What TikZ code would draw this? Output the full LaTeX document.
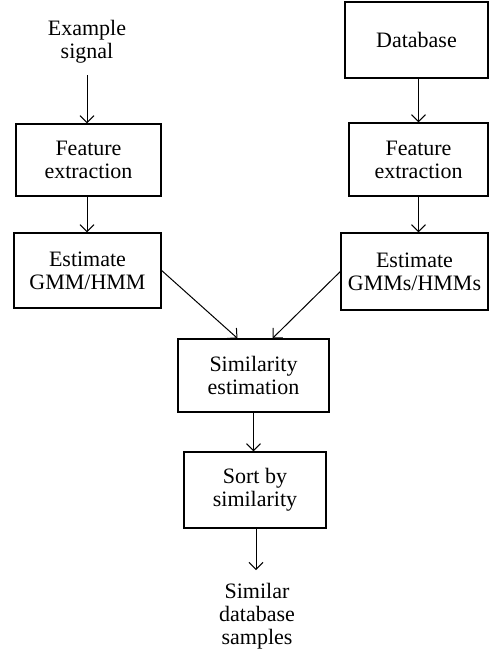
\documentclass[tikz,border=0pt]{standalone}
\usepackage{fontspec}
\setmainfont{Liberation Serif}
\usetikzlibrary{arrows.meta,calc}
\begin{document}
\begin{tikzpicture}[x=1pt,y=-1pt,
  every node/.style={font=\fontsize{22}{23}\selectfont, align=center, inner sep=0pt},
  blk/.style={draw, line width=1.3pt, minimum width=#1},
  conn/.style={line width=1pt, -{Straight Barb[length=7pt,width=14pt,line width=1pt]}}]
\useasboundingbox (0,0) rectangle (490,651);
\node (ex) at (87,42) {Example\\signal};
\node[blk=145, minimum height=72] (fe1) at (88.5,160) {Feature\\extraction};
\node[blk=147, minimum height=75] (est1) at (87.5,270.5) {Estimate\\GMM/HMM};
\node[blk=143, minimum height=76] (db) at (416.5,40) {Database};
\node[blk=139, minimum height=73] (fe2) at (418.5,159.5) {Feature\\extraction};
\node[blk=147, minimum height=77] (est2) at (414.5,271.5) {Estimate\\GMMs/HMMs};
\node[blk=151, minimum height=73] (sim) at (253.5,375.5) {Similarity\\estimation};
\node[blk=142, minimum height=76] (sort) at (255,490) {Sort by\\similarity};
\node (out) at (257,616) {Similar\\database\\samples};
\coordinate (exs) at (87,75);
\coordinate (siml) at ($(sim.north)+(-16,0)$);
\coordinate (simr) at ($(sim.north)+(19,0)$);
\coordinate (outn) at (256,570);
\draw[conn] (exs) -- (exs |- fe1.north);
\draw[conn] (fe1.south -| exs) -- (est1.north -| exs);
\draw[conn] (db.south -| fe2) -- (fe2.north);
\draw[conn] (fe2.south) -- (est2.north -| fe2);
\draw[conn] (est1.east) -- (siml);
\draw[conn] (est2.west) -- (simr);
\draw[conn] (sim.south) -- (sort.north -| sim);
\draw[conn] (sort.south -| outn) -- (outn);
\end{tikzpicture}
\end{document}
